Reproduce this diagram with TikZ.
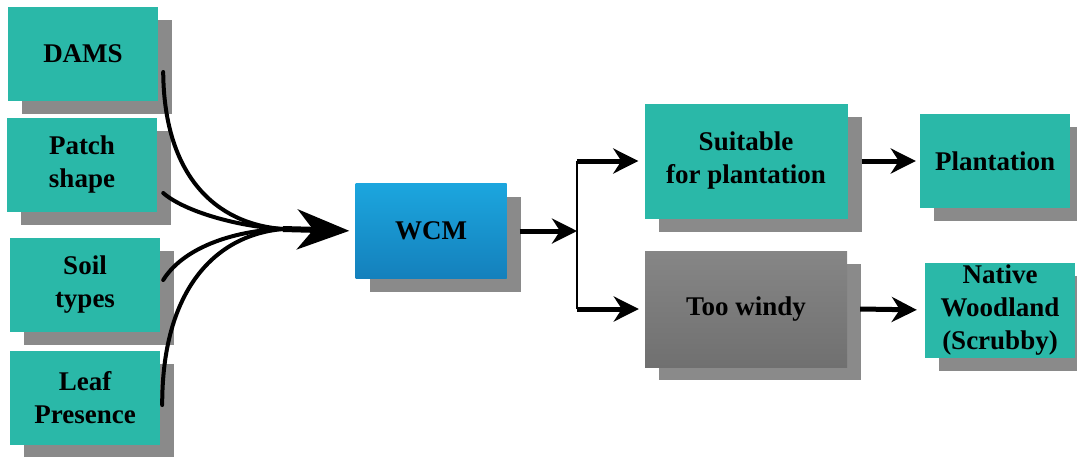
\documentclass[tikz,border=0pt]{standalone}
\usepackage{fontspec}
\setmainfont{Liberation Serif}
\usetikzlibrary{arrows.meta,shadows}
\definecolor{boxteal}{RGB}{42,184,168}
\definecolor{shadowgrey}{RGB}{138,138,138}
\definecolor{wcmtop}{RGB}{28,166,222}
\definecolor{wcmbot}{RGB}{20,128,188}
\definecolor{windytop}{RGB}{134,134,134}
\definecolor{windybot}{RGB}{112,112,112}

\begin{document}
\begin{tikzpicture}[x=1pt, y=-1pt,
	box/.style={fill=boxteal, minimum width=150pt, minimum height=94pt, inner sep=0pt, align=center, font=\bfseries\fontsize{27}{33}\selectfont, general shadow={fill=shadowgrey, shadow xshift=14pt, shadow yshift=-13pt}},
	feed/.style={line width=4pt, line cap=round},
	flow/.style={line width=5pt, -{Stealth[length=25pt,width=25pt,inset=8pt]}}]
	\useasboundingbox (0,0) rectangle (1077,456);
	\node[box] (dams) at (83,54) {DAMS};
	\node[box] (patch) at (82,165) {Patch\\shape};
	\node[box] (soil) at (85,285) {Soil\\types};
	\node[box] (leaf) at (85,398) {Leaf\\Presence};
	\node[box, top color=wcmtop, bottom color=wcmbot, minimum width=151pt, minimum height=95pt] (wcm) at (431,231) {WCM};
	\node[box, minimum width=203pt, minimum height=115pt] (suitable) at (746,161) {Suitable\\for plantation};
	\node[box] (plantation) at (995,161) {Plantation};
	\node[box, top color=windytop, bottom color=windybot, minimum width=202pt, minimum height=116pt] (windy) at (746,309) {Too windy};
	\node[box, minimum height=95pt] (native) at (1000,310) {Native\\Woodland\\(Scrubby)};
	\coordinate (join) at (283,229);
	\coordinate (split) at (577,231);
	\draw[feed] ([xshift=5pt,yshift=-18pt]dams.east) .. controls (164,175) and (215,224) .. (join);
	\draw[feed] ([xshift=6pt,yshift=-28pt]patch.east) .. controls (185,212) and (240,227) .. (join);
	\draw[feed] ([xshift=3pt,yshift=5pt]soil.east) .. controls (185,245) and (240,230) .. (join);
	\draw[feed] ([xshift=2pt,yshift=-7pt]leaf.east) .. controls (162,290) and (215,235) .. (join);
	\draw[flow, line width=6pt, -{Stealth[length=52pt,width=40pt,inset=16pt]}, shorten >=6pt] (join) -- (wcm.west);
	\draw[flow] ([xshift=13pt]wcm.east) -- (split);
	\draw[line width=2.5pt] (split |- suitable.west) -- (split |- windy.west);
	\draw[flow, shorten >=6pt] (split |- suitable.west) -- (suitable.west);
	\draw[flow, shorten >=6pt] (split |- windy.west) -- (windy.west);
	\draw[flow, shorten >=4pt] ([xshift=14pt]suitable.east) -- (plantation.west);
	\draw[flow, shorten >=8pt] ([xshift=13pt]windy.east) -- (native.west);
\end{tikzpicture}
\end{document}
